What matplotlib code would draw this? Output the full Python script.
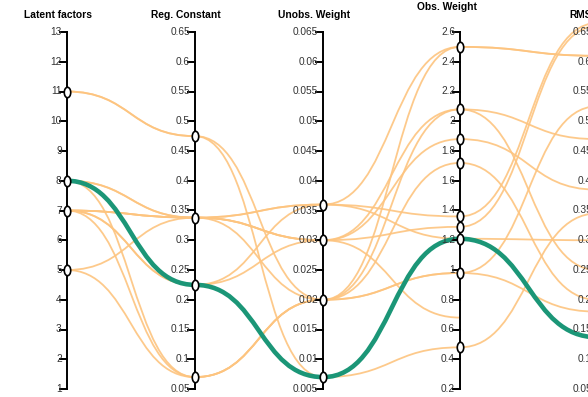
import numpy as np
import matplotlib
matplotlib.use("Agg")
import matplotlib.pyplot as plt
from matplotlib.path import Path
from matplotlib.patches import PathPatch

# ---- data -------------------------------------------------------------
dimensions = ["Latent factors", "Reg. Constant", "Unobs. Weight", "Obs. Weight", "RMSE"]
ranges = [(1, 13), (0.05, 0.65), (0.005, 0.065), (0.2, 2.6), (0.05, 0.65)]
tick_steps = [1, 0.05, 0.005, 0.2, 0.05]

latent_factors = [8, 11, 11, 8, 8, 5, 7, 7, 7, 7, 5, 7, 7, 8]
reg_constant = [0.225, 0.475, 0.475, 0.338, 0.07, 0.07, 0.225, 0.225, 0.338, 0.07, 0.338, 0.338, 0.338, 0.338]
unobs_weight = [0.007, 0.007, 0.020, 0.036, 0.020, 0.020, 0.036, 0.030, 0.020, 0.020, 0.030, 0.036, 0.030, 0.030]
obs_weight = [1.21, 0.48, 2.50, 2.50, 2.08, 1.72, 1.36, 1.88, 0.98, 0.98, 1.29, 1.21, 0.68, 2.08]
rmse = [0.137, 0.345, 0.61, 0.61, 0.47, 0.20, 0.665, 0.385, 0.18, 0.525, 0.66, 0.30, np.nan, 0.25]
highlight = 0  # index of the emphasised run

columns = [latent_factors, reg_constant, unobs_weight, obs_weight, rmse]

# ---- layout -----------------------------------------------------------
W, H = 588, 397
axis_x = [66.7, 195.0, 323.3, 460.0, 597.0]
top_px, bottom_px = 32.0, 389.0
title_pos = [(58, 14.5), (186, 14.5), (314, 14.5), (447, 7.5), (584, 14.5)]

ORANGE = "#fdc47f"
GREEN = "#1b9677"
FONT = "Liberation Sans"

fig = plt.figure(figsize=(W / 100, H / 100), dpi=100)
ax = fig.add_axes([0, 0, 1, 1])
ax.set_xlim(0, W)
ax.set_ylim(H, 0)
ax.axis("off")


def scale(v, i):
    lo, hi = ranges[i]
    return bottom_px - (v - lo) / (hi - lo) * (bottom_px - top_px)


def row_path(k):
    verts, codes = [], []
    prev = None
    for i, col in enumerate(columns):
        v = col[k]
        if v is None or np.isnan(v):
            break
        x, y = axis_x[i], scale(v, i)
        if prev is None:
            verts.append((x, y))
            codes.append(Path.MOVETO)
        else:
            px, py = prev
            xm = (px + x) / 2
            verts += [(xm, py), (xm, y), (x, y)]
            codes += [Path.CURVE4] * 3
        prev = (x, y)
    return Path(verts, codes)


n = len(latent_factors)
for k in range(n):
    if k == highlight:
        continue
    ax.add_patch(PathPatch(row_path(k), fill=False, edgecolor=ORANGE,
                           lw=1.3, alpha=0.9, zorder=2))
ax.add_patch(PathPatch(row_path(highlight), fill=False, edgecolor=GREEN,
                       lw=3.3, zorder=3, capstyle="round"))

# ---- axes, ticks, labels ------------------------------------------------
def fmt(v):
    s = f"{v:.3f}".rstrip("0").rstrip(".")
    return s

for i, name in enumerate(dimensions):
    x = axis_x[i]
    ax.plot([x, x], [top_px, bottom_px], color="black", lw=1.4, zorder=4)
    lo, hi = ranges[i]
    step = tick_steps[i]
    nt = int(round((hi - lo) / step)) + 1
    for t in range(nt):
        v = lo + t * step
        y = scale(v, i)
        ax.plot([x - 7, x], [y, y], color="black", lw=1.4, zorder=4)
        ax.text(x - 5, y, fmt(v), ha="right", va="center", fontsize=7.3,
                color="#333333", family=FONT, zorder=5)
    tx, ty = title_pos[i]
    ax.text(tx, ty, name, ha="center", va="center", fontsize=7.4,
            fontweight="bold", color="black", family=FONT, zorder=5)

# ---- point markers -------------------------------------------------------
ell = Path.unit_circle()
ell = Path(ell.vertices * np.array([0.62, 1.0]), ell.codes)
for i, col in enumerate(columns[:-1]):
    vals = sorted({v for v in col if not np.isnan(v)})
    if i == 3:
        vals = [v for v in vals if v != 0.68]
    for v in vals:
        ax.plot(axis_x[i], scale(v, i), marker=ell, markersize=7.5,
                markerfacecolor="white", markeredgecolor="black",
                markeredgewidth=1.2, zorder=6)

fig.savefig("out.png", dpi=100)
